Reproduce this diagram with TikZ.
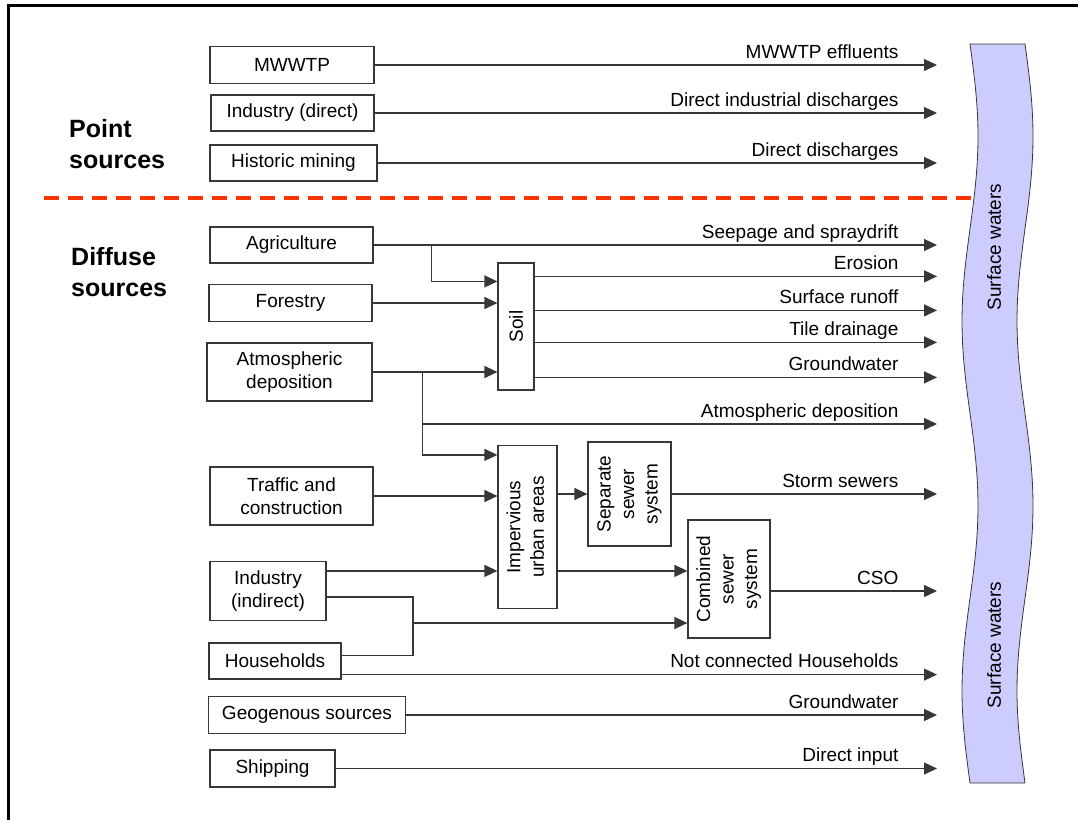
\documentclass[tikz,border=0pt]{standalone}
\usepackage{fontspec}
\setmainfont{Liberation Sans}
\usepackage{graphicx}
\usepackage{tikz}
\usetikzlibrary{calc,positioning,arrows.meta}

\definecolor{linegrey}{RGB}{55,55,55}
\definecolor{waterblue}{RGB}{204,204,255}
\definecolor{splitred}{RGB}{255,51,0}

\begin{document}
\begin{tikzpicture}[x=1pt,y=-1pt]
\tikzset{srcbox/.style={draw=linegrey,line width=1.2pt,inner sep=0,align=center,font=\fontsize{19}{23.5}\selectfont},
flow/.style={draw=linegrey,line width=1.2pt,-{Triangle[length=13pt,width=12pt]}},
link/.style={draw=linegrey,line width=1.2pt},
flowlabel/.style={anchor=base east,inner sep=0,xshift=-38pt,yshift=7pt,font=\fontsize{19}{23.5}\selectfont},
grouplabel/.style={anchor=west,align=left,inner sep=0,font=\fontsize{25}{31}\selectfont\bfseries}}

\useasboundingbox (0,0) rectangle (1078,820);

%% Frame
\draw[line width=3pt] (8,820) -- (8,5) -- (1078,5);

\coordinate (tip) at (937,0);

%% Surface waters
\filldraw[fill=waterblue,draw=linegrey,line width=0.8pt]
  plot[variable=\t,domain=44:783,samples=80] ({970+8*sin(0.9743*(\t-44))},\t)
  -- plot[variable=\t,domain=783:44,samples=80] ({1025+8*sin(0.9743*(\t-44))},\t)
  -- cycle;
\node (water1) [rotate=90,font=\fontsize{19}{23.5}\selectfont] at (994,247) {Surface waters};
\node (water2) [rotate=90,font=\fontsize{19}{23.5}\selectfont] at (994,645) {Surface waters};

\node (point) [grouplabel] at (69,144) {Point\\sources};
\node (diffuse) [grouplabel] at (71,272.5) {Diffuse\\sources};

\draw[splitred,line width=4pt,dash pattern=on 15pt off 9pt] (44,198) -- (972,198);

%% Point sources
\node (mwwtp) [srcbox,minimum width=164pt,minimum height=37pt] at (292,65) {MWWTP};
\node (inddir) [srcbox,minimum width=163pt,minimum height=36pt] at (292.5,113) {Industry (direct)};
\node (mining) [srcbox,minimum width=167pt,minimum height=36pt] at (293.5,163) {Historic mining};

%% Diffuse sources
\node (agri) [srcbox,minimum width=163pt,minimum height=36pt] at (291.5,245) {Agriculture};
\node (forestry) [srcbox,minimum width=163pt,minimum height=37pt] at (290.5,303) {Forestry};
\node (atmo) [srcbox,minimum width=165pt,minimum height=58pt] at (289.5,372) {Atmospheric\\deposition};
\node (soil) [srcbox,minimum width=36pt,minimum height=127pt] at (516,326.5) {\rotatebox{90}{Soil}};
\node (traffic) [srcbox,minimum width=163pt,minimum height=58pt] at (291.5,496) {Traffic and\\construction};
\node (imperv) [srcbox,minimum width=59pt,minimum height=163pt] at (527.5,527) {\rotatebox{90}{\begin{tabular}{@{}c@{}}Impervious\\urban areas\end{tabular}}};
\node (separate) [srcbox,minimum width=83pt,minimum height=104pt] at (629.5,494) {\rotatebox{90}{\begin{tabular}{@{}c@{}}Separate\\sewer\\system\end{tabular}}};
\node (combined) [srcbox,minimum width=82pt,minimum height=118pt] at (729,579) {\rotatebox{90}{\begin{tabular}{@{}c@{}}Combined\\sewer\\system\end{tabular}}};
\node (indind) [srcbox,minimum width=116pt,minimum height=59pt] at (268,591) {Industry\\(indirect)};
\node (households) [srcbox,minimum width=132pt,minimum height=36pt] at (275,661) {Households};
\node (geogen) [srcbox,minimum width=197pt,minimum height=37pt] at (307,715) {Geogenous sources};
\node (shipping) [srcbox,minimum width=125pt,minimum height=37pt] at (272.5,768.5) {Shipping};

%% Edges
\draw[flow] (mwwtp.east) -- (mwwtp.east -| tip) node[flowlabel] {MWWTP effluents};
\draw[flow] (inddir.east) -- (inddir.east -| tip) node[flowlabel] {Direct industrial discharges};
\draw[flow] (mining.east) -- (mining.east -| tip) node[flowlabel] {Direct discharges};

\draw[flow] (agri.east) -- (agri.east -| tip) node[flowlabel] {Seepage and spraydrift};
\draw[flow] ($(agri.east)+(58,0)$) |- ($(soil.north west)+(0,19)$);
\draw[flow] (forestry.east) -- (forestry.east -| soil.west);
\draw[flow] (atmo.east) -- (atmo.east -| soil.west);
\foreach \dy/\lab in {14/Erosion,48/Surface runoff,80/Tile drainage,115/Groundwater}
  \draw[flow] ($(soil.north east)+(0,\dy)$) -- ($(tip |- soil.north east)+(0,\dy)$) node[flowlabel] {\lab};

\coordinate (atmoj) at ($(atmo.east)+(50,0)$);
\draw[flow] (atmoj) |- ($(imperv.north west)+(0,10)$);
\draw[flow] ($(atmoj)+(0,52)$) -- ($(atmoj -| tip)+(0,52)$) node[flowlabel] {Atmospheric deposition};

\draw[flow] (traffic.east) -- (traffic.east -| imperv.west);
\draw[flow] ($(indind.north east)+(0,10)$) -- ($(indind.north east -| imperv.west)+(0,10)$);
\draw[flow] (separate.west -| imperv.east) -- (separate.west);
\draw[flow] ($(imperv.north east)+(0,126)$) -- ($(imperv.north east -| combined.west)+(0,126)$);
\draw[flow] (separate.east) -- (separate.east -| tip) node[flowlabel] {Storm sewers};
\draw[flow] ($(combined.east)+(0,12)$) -- ($(combined.east -| tip)+(0,12)$) node[flowlabel] {CSO};

\coordinate (sewj) at (413,623);
\draw[link] ($(indind.north east)+(0,36)$) -| (sewj) |- ($(households.north east)+(0,13)$);
\draw[flow] (sewj) -- (sewj -| combined.west);
\draw[flow] ($(households.south east)+(0,-5)$) -- ($(households.south east -| tip)+(0,-5)$) node[flowlabel] {Not connected Households};
\draw[flow] (geogen.east) -- (geogen.east -| tip) node[flowlabel] {Groundwater};
\draw[flow] (shipping.east) -- (shipping.east -| tip) node[flowlabel] {Direct input};

\end{tikzpicture}
\end{document}
